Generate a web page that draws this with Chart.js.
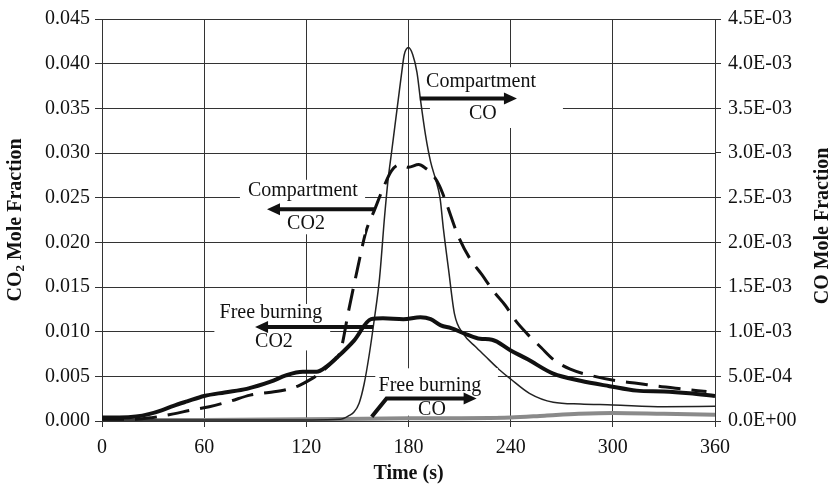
<!DOCTYPE html>
<html>
<head>
<meta charset="utf-8">
<script src="https://cdn.jsdelivr.net/npm/chart.js@4.4.0/dist/chart.umd.min.js"></script>
<style>
    html, body { margin: 0; padding: 0; background: #fff; }
    #wrap { width: 834px; height: 488px; }
</style>
</head>
<body>
<div id="wrap"><canvas id="gasChart" width="834" height="488"></canvas></div>
<script>
// Free burning CO2 (left axis)
const freeCo2Time = [0, 10, 20, 28, 35, 42, 50, 60, 72, 85, 99, 108, 118, 126, 132, 138, 148, 158, 165, 177, 187, 193, 199, 205, 214, 222, 229, 240, 250, 265, 281, 298, 314, 330, 345, 360];
const freeCo2 = [0.0004, 0.0004, 0.0005, 0.0008, 0.0012, 0.0017, 0.0022, 0.0028, 0.0032, 0.0036, 0.0044, 0.0051, 0.0055, 0.0055, 0.0061, 0.0071, 0.0090, 0.0114, 0.0115, 0.0114, 0.0116, 0.0114, 0.0107, 0.0104, 0.0097, 0.0092, 0.0091, 0.0079, 0.0069, 0.0053, 0.0045, 0.0039, 0.0034, 0.0033, 0.0031, 0.0028];

// Compartment CO2 (left axis)
const compCo2Time = [0, 20, 30, 42, 52, 63, 75, 87, 98, 108, 116, 122, 129, 135, 140, 145, 150, 155, 160, 165, 170, 175, 180, 186, 190, 194, 198, 202, 209, 216, 223, 230, 237, 243, 250, 258, 265, 275, 287, 302, 315, 326, 340, 355];
const compCo2 = [0.0002, 0.0002, 0.0004, 0.0008, 0.0012, 0.0016, 0.0022, 0.0029, 0.0032, 0.0035, 0.0040, 0.0046, 0.0055, 0.0066, 0.0078, 0.0125, 0.0170, 0.0212, 0.0236, 0.0260, 0.0280, 0.0287, 0.0284, 0.0287, 0.0283, 0.0276, 0.0264, 0.0245, 0.0208, 0.0182, 0.0164, 0.0145, 0.0129, 0.0112, 0.0097, 0.0082, 0.0069, 0.0058, 0.0051, 0.0045, 0.0042, 0.0039, 0.0036, 0.0033];

// Compartment CO (right axis)
const compCoTime = [0, 100, 140, 145, 148, 151, 154, 157, 160, 163, 166, 168, 170, 172, 174, 176, 177.5, 180, 182.5, 185, 187, 190, 193, 196, 198.5, 200.5, 203.5, 207, 212, 220, 227, 233, 240, 251, 265, 281, 300, 330, 360];
const compCo = [0.00001, 0.00001, 0.00002, 0.00006, 0.0001, 0.0002, 0.00042, 0.00075, 0.00115, 0.0016, 0.0023, 0.0027, 0.0030, 0.0033, 0.0036, 0.0039, 0.0041, 0.00418, 0.0041, 0.0039, 0.0036, 0.0032, 0.0029, 0.0027, 0.0025, 0.00215, 0.0017, 0.0012, 0.00098, 0.00082, 0.00069, 0.00058, 0.00047, 0.00031, 0.00021, 0.00019, 0.00018, 0.00016, 0.000165];

// Free burning CO (right axis)
const freeCoTime = [0, 60, 120, 180, 240, 260, 280, 300, 330, 360];
const freeCo = [0.00001, 0.00001, 0.00002, 0.00003, 0.00004, 0.00006, 0.00008, 0.00009, 0.00008, 0.00007];

// callouts, in chart units (time, CO2 fraction)
const callouts = [
    { box: [81, 154.5, 0.0270, 0.0209], lines: [['Compartment', 118, 0.0258], ['CO2', 119.8, 0.0221]], arrow: [[160.3, 0.0237], [96.9, 0.0237]] },
    { box: [192.6, 270.7, 0.0396, 0.0328], lines: [['Compartment', 222.6, 0.0380], ['CO', 223.7, 0.0344]], arrow: [[186.7, 0.0361], [243.7, 0.0361]] },
    { box: [66, 134, 0.0131, 0.0079], lines: [['Free burning', 99.2, 0.0121], ['CO2', 101, 0.00887]], arrow: [[159.2, 0.01053], [89.9, 0.01053]] },
    { box: [160.5, 232.5, 0.0059, 0.0006], lines: [['Free burning', 192.6, 0.0040], ['CO', 193.8, 0.00122]], arrow: [[158.4, 0.00048], [167.1, 0.00252], [220, 0.00252]] },
];

const toPoints = (ts, vs) => ts.map((t, i) => ({ x: t, y: vs[i] }));

const sciLabel = (v) => {
    if (Math.abs(v) < 1e-12) return '0.0E+00';
    let e = Math.floor(Math.log10(Math.abs(v)) + 1e-9);
    let m = (v / Math.pow(10, e)).toFixed(1);
    if (m === '10.0') { m = '1.0'; e++; }
    return m + 'E' + (e < 0 ? '-' : '+') + String(Math.abs(e)).padStart(2, '0');
};

const serif = '"Liberation Serif", "Times New Roman", serif';

const calloutPlugin = {
    id: 'callouts',
    afterDatasetsDraw(chart) {
        const { ctx } = chart;
        const px = (t) => chart.scales.x.getPixelForValue(t);
        const py = (v) => chart.scales.y.getPixelForValue(v);
        ctx.save();
        callouts.forEach((c) => {
            const [t0, t1, v0, v1] = c.box;
            ctx.fillStyle = '#fff';
            ctx.fillRect(px(t0), py(v0), px(t1) - px(t0), py(v1) - py(v0));

            ctx.fillStyle = '#111';
            ctx.font = '20px ' + serif;
            ctx.textAlign = 'center';
            ctx.textBaseline = 'middle';
            c.lines.forEach(([txt, t, v]) => ctx.fillText(txt, px(t), py(v)));

            const pts = c.arrow.map(([t, v]) => [px(t), py(v)]);
            const [ax, ay] = pts[pts.length - 2];
            const [bx, by] = pts[pts.length - 1];
            const ang = Math.atan2(by - ay, bx - ax);
            const head = 13;
            ctx.strokeStyle = '#111';
            ctx.lineWidth = 4;
            ctx.lineJoin = 'miter';
            ctx.beginPath();
            ctx.moveTo(pts[0][0], pts[0][1]);
            for (let i = 1; i < pts.length - 1; i++) ctx.lineTo(pts[i][0], pts[i][1]);
            ctx.lineTo(bx - Math.cos(ang) * (head - 2), by - Math.sin(ang) * (head - 2));
            ctx.stroke();
            ctx.beginPath();
            ctx.moveTo(bx, by);
            ctx.lineTo(bx - head * Math.cos(ang) + 6 * Math.sin(ang), by - head * Math.sin(ang) - 6 * Math.cos(ang));
            ctx.lineTo(bx - head * Math.cos(ang) - 6 * Math.sin(ang), by - head * Math.sin(ang) + 6 * Math.cos(ang));
            ctx.closePath();
            ctx.fillStyle = '#111';
            ctx.fill();
        });
        ctx.restore();
    },
    afterDraw(chart) {
        const { ctx, chartArea } = chart;
        ctx.save();
        ctx.fillStyle = '#111';
        ctx.font = 'bold 20px ' + serif;
        ctx.textBaseline = 'middle';
        ctx.textAlign = 'center';
        ctx.fillText('Time (s)', (chartArea.left + chartArea.right) / 2, 474);

        // left title with subscript 2
        const midY = (chartArea.top + chartArea.bottom) / 2;
        ctx.translate(16, midY);
        ctx.rotate(-Math.PI / 2);
        ctx.textAlign = 'left';
        const big = 'bold 20px ' + serif;
        const small = 'bold 13px ' + serif;
        ctx.font = big;
        const wCO = ctx.measureText('CO').width;
        const wRest = ctx.measureText(' Mole Fraction').width;
        ctx.font = small;
        const w2 = ctx.measureText('2').width;
        let x0 = -(wCO + w2 + wRest) / 2;
        ctx.font = big;
        ctx.fillText('CO', x0, 0);
        ctx.font = small;
        ctx.fillText('2', x0 + wCO, 5);
        ctx.font = big;
        ctx.fillText(' Mole Fraction', x0 + wCO + w2, 0);
        ctx.restore();

        ctx.save();
        ctx.fillStyle = '#111';
        ctx.font = 'bold 20px ' + serif;
        ctx.textBaseline = 'middle';
        ctx.textAlign = 'center';
        ctx.translate(823, midY + 6);
        ctx.rotate(-Math.PI / 2);
        ctx.fillText('CO Mole Fraction', 0, 0);
        ctx.restore();
    },
};

const gridColor = '#333';

new Chart(document.getElementById('gasChart'), {
    type: 'line',
    data: {
        datasets: [
            {
                label: 'Free burning CO2',
                data: toPoints(freeCo2Time, freeCo2),
                borderColor: '#111',
                borderWidth: 4,
                yAxisID: 'y',
            },
            {
                label: 'Compartment CO2',
                data: toPoints(compCo2Time, compCo2),
                borderColor: '#111',
                borderWidth: 3,
                borderDash: [22, 11],
                yAxisID: 'y',
            },
            {
                label: 'Compartment CO',
                data: toPoints(compCoTime, compCo),
                borderColor: '#222',
                borderWidth: 1.5,
                yAxisID: 'y1',
            },
            {
                label: 'Free burning CO',
                data: toPoints(freeCoTime, freeCo),
                borderColor: '#8a8a8a',
                borderWidth: 4,
                yAxisID: 'y1',
            },
        ],
    },
    options: {
        responsive: false,
        animation: false,
        devicePixelRatio: 1,
        layout: { padding: { top: 15, left: 0, right: 0, bottom: 0 } },
        elements: {
            point: { radius: 0 },
            line: { cubicInterpolationMode: 'monotone', fill: false },
        },
        plugins: {
            legend: { display: false },
            tooltip: { enabled: false },
        },
        scales: {
            x: {
                type: 'linear',
                min: 0,
                max: 360,
                afterFit: (s) => { s.height = 67; },
                border: { color: gridColor, width: 1 },
                grid: { color: gridColor, lineWidth: 1, tickLength: 6 },
                ticks: {
                    stepSize: 60,
                    color: '#111',
                    padding: 9,
                    maxRotation: 0,
                    font: { family: serif, size: 20 },
                },
            },
            y: {
                type: 'linear',
                position: 'left',
                min: 0,
                max: 0.045,
                afterFit: (s) => { s.width = 102; },
                border: { color: gridColor, width: 1 },
                grid: { color: gridColor, lineWidth: 1, tickLength: 7 },
                ticks: {
                    stepSize: 0.005,
                    color: '#111',
                    padding: 5,
                    font: { family: serif, size: 20 },
                    callback: (v) => Number(v).toFixed(3),
                },
            },
            y1: {
                type: 'linear',
                position: 'right',
                min: 0,
                max: 0.0045,
                afterFit: (s) => { s.width = 119; },
                border: { color: gridColor, width: 1 },
                grid: { drawOnChartArea: false, color: gridColor, tickLength: 6 },
                ticks: {
                    stepSize: 0.0005,
                    color: '#111',
                    padding: 7,
                    font: { family: serif, size: 20 },
                    callback: (v) => sciLabel(v),
                },
            },
        },
    },
    plugins: [calloutPlugin],
});
</script>
</body>
</html>
